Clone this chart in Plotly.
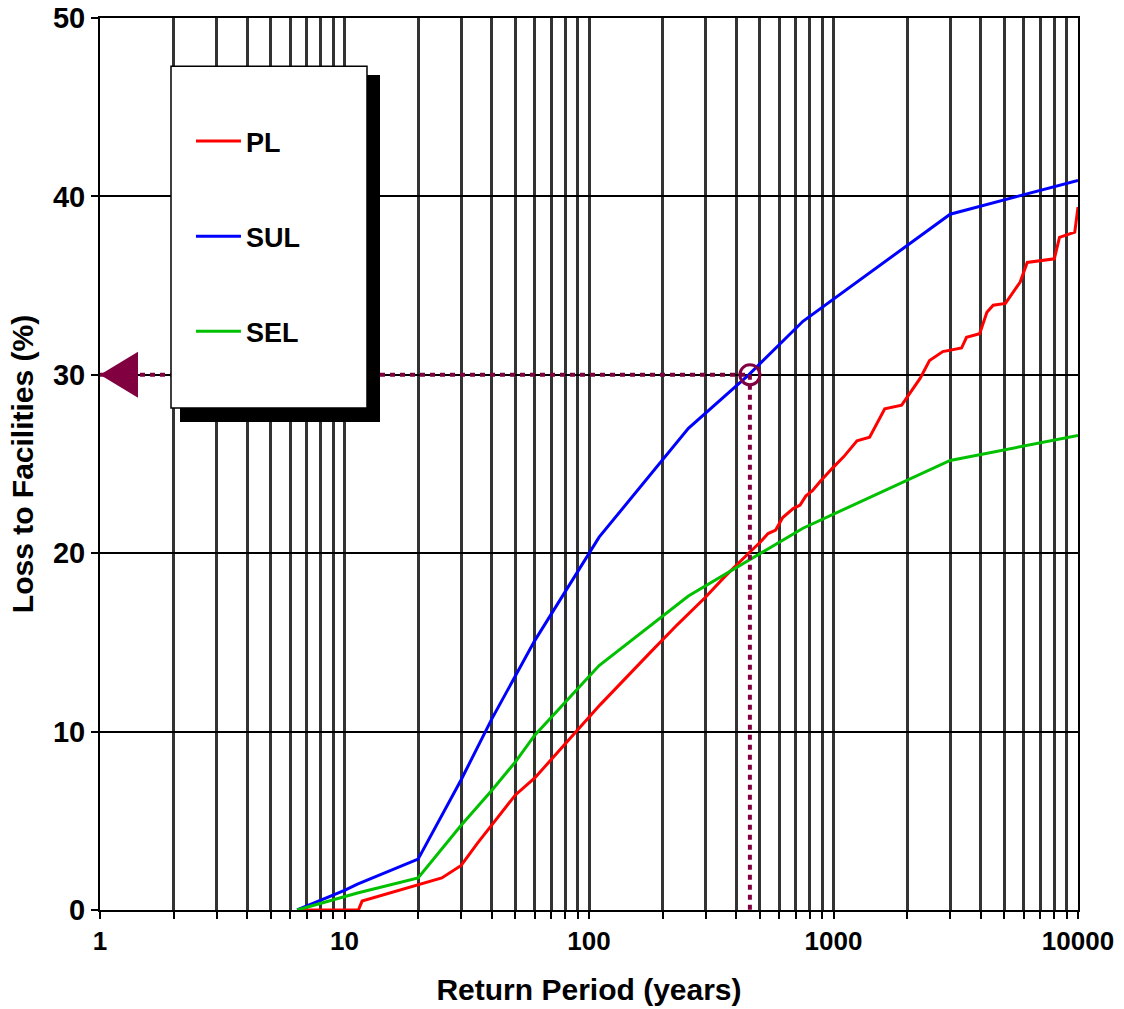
import plotly.graph_objects as go

# ---------------- data ----------------
pl_x = [6.4, 11.4, 11.8, 20, 25, 30, 35, 40, 50, 60, 90, 111, 177, 230, 298, 360, 455,
        500, 540, 580, 620, 684, 730, 770, 820, 880, 995, 1100, 1248, 1405, 1620, 1900,
        2260, 2470, 2800, 3340, 3500, 3960, 4240, 4500, 5050, 5400, 5800, 6200, 8000,
        8400, 9700, 10000]
pl_y = [0, 0, 0.5, 1.4, 1.8, 2.5, 3.75, 4.76, 6.45, 7.4, 10.1, 11.5, 14.4, 16.0, 17.5,
        18.7, 20.07, 20.6, 21.1, 21.3, 22.0, 22.5, 22.7, 23.2, 23.5, 24.0, 24.8, 25.4,
        26.3, 26.5, 28.1, 28.3, 29.8, 30.8, 31.3, 31.5, 32.1, 32.3, 33.5, 33.9, 34.0,
        34.6, 35.2, 36.3, 36.5, 37.7, 38.0, 39.4]

sul_x = [6.4, 10, 11.3, 20, 30, 40, 60, 110, 255, 450, 750, 3000, 10000]
sul_y = [0, 1.1, 1.45, 2.85, 7.3, 10.7, 15.1, 20.9, 27.0, 30.0, 33.0, 39.0, 40.9]

sel_x = [6.4, 10, 11.3, 20, 30, 40, 50, 60, 110, 255, 450, 750, 3000, 10000]
sel_y = [0, 0.75, 0.95, 1.8, 4.75, 6.7, 8.3, 9.8, 13.7, 17.6, 19.6, 21.4, 25.2, 26.6]

# reading example: 30 % loss at ~455-year return period
read_rp = 455
read_loss = 30

x_tickvals = [1, 10, 100, 1000, 10000]
x_ticktext = ["1", "10", "100", "1000", "10000"]
y_tickvals = [0, 10, 20, 30, 40, 50]

FONT = "Liberation Sans, Arial, sans-serif"
MAROON = "#800040"
GRID = "#333333"

fig = go.Figure()

fig.add_trace(go.Scatter(x=pl_x, y=pl_y, mode="lines", name="PL", legendgroup="PL",
                         line=dict(color="#ff0000", width=3)))
fig.add_trace(go.Scatter(x=sul_x, y=sul_y, mode="lines", name="SUL", legendgroup="SUL",
                         line=dict(color="#0000ff", width=3)))
fig.add_trace(go.Scatter(x=sel_x, y=sel_y, mode="lines", name="SEL", legendgroup="SEL",
                         line=dict(color="#00c000", width=3)))

# dotted reading lines
fig.add_trace(go.Scatter(x=[1, read_rp], y=[read_loss, read_loss], mode="lines",
                         showlegend=False, hoverinfo="skip",
                         line=dict(color=MAROON, width=4, dash="5px,5px")))
fig.add_trace(go.Scatter(x=[read_rp, read_rp], y=[read_loss, 0], mode="lines",
                         showlegend=False, hoverinfo="skip",
                         line=dict(color=MAROON, width=4, dash="5px,5px")))
fig.add_trace(go.Scatter(x=[read_rp], y=[read_loss], mode="markers", showlegend=False,
                         marker=dict(symbol="circle-open", size=20, color=MAROON,
                                     line=dict(color=MAROON, width=3))))

minor_vals = [m * 10 ** k for k in range(4) for m in range(2, 10)]

shapes = [
    # arrow head on the y axis
    dict(type="path", xref="x", yref="y", xsizemode="pixel", ysizemode="pixel",
         xanchor=1, yanchor=read_loss, path="M0,0 L38,23 L38,-23 Z",
         fillcolor=MAROON, line=dict(width=0), layer="above"),
    # legend box shadow
    dict(type="rect", xref="paper", yref="paper", x0=0.0818, x1=0.2863, y0=0.547, y1=0.936,
         fillcolor="black", line=dict(width=0), layer="above"),
    # legend box
    dict(type="rect", xref="paper", yref="paper", x0=0.0726, x1=0.273, y0=0.5628, y1=0.946,
         fillcolor="white", line=dict(color="black", width=1.5), layer="above"),
]

fig.update_layout(
    width=1124, height=1009,
    margin=dict(l=100, r=46, t=18, b=99, autoexpand=False),
    paper_bgcolor="white", plot_bgcolor="white",
    font=dict(family=FONT, color="black", weight="bold"),
    shapes=shapes,
    showlegend=True,
    legend=dict(x=0.093, y=0.889, xanchor="left", yanchor="top",
                bgcolor="rgba(0,0,0,0)", borderwidth=0,
                font=dict(family=FONT, size=27, color="black", weight="bold"),
                itemwidth=45, tracegroupgap=57, traceorder="grouped"),
    xaxis=dict(type="log", range=[0, 4], tickvals=x_tickvals, ticktext=x_ticktext,
               automargin=False,
               tickfont=dict(size=26, family=FONT, weight="bold"),
               ticks="outside", ticklen=7, tickcolor="black", tickwidth=1.5,
               showgrid=True, gridcolor=GRID, gridwidth=2.5,
               showline=True, linecolor="black", linewidth=2, mirror=True,
               minor=dict(tickvals=minor_vals, showgrid=True, gridcolor=GRID,
                          gridwidth=2.5, ticks="outside", ticklen=7, tickcolor="black",
                          tickwidth=1.5),
               title=dict(text="Return Period (years)", standoff=24,
                          font=dict(size=30, family=FONT, weight="bold")),
               zeroline=False),
    yaxis=dict(range=[0, 50], tickvals=y_tickvals, automargin=False,
               tickfont=dict(size=29, family=FONT, weight="bold"),
               ticks="outside", ticklen=7, tickcolor="black", tickwidth=1.5,
               showgrid=True, gridcolor="black", gridwidth=1.5,
               showline=True, linecolor="black", linewidth=2, mirror=True,
               title=dict(text="Loss to Facilities (%)", standoff=10,
                          font=dict(size=30, family=FONT, weight="bold")),
               zeroline=False),
)

fig.write_html("out.html", config={"displayModeBar": False},
               post_script="document.body.style.margin='0';document.body.style.overflow='hidden';")
